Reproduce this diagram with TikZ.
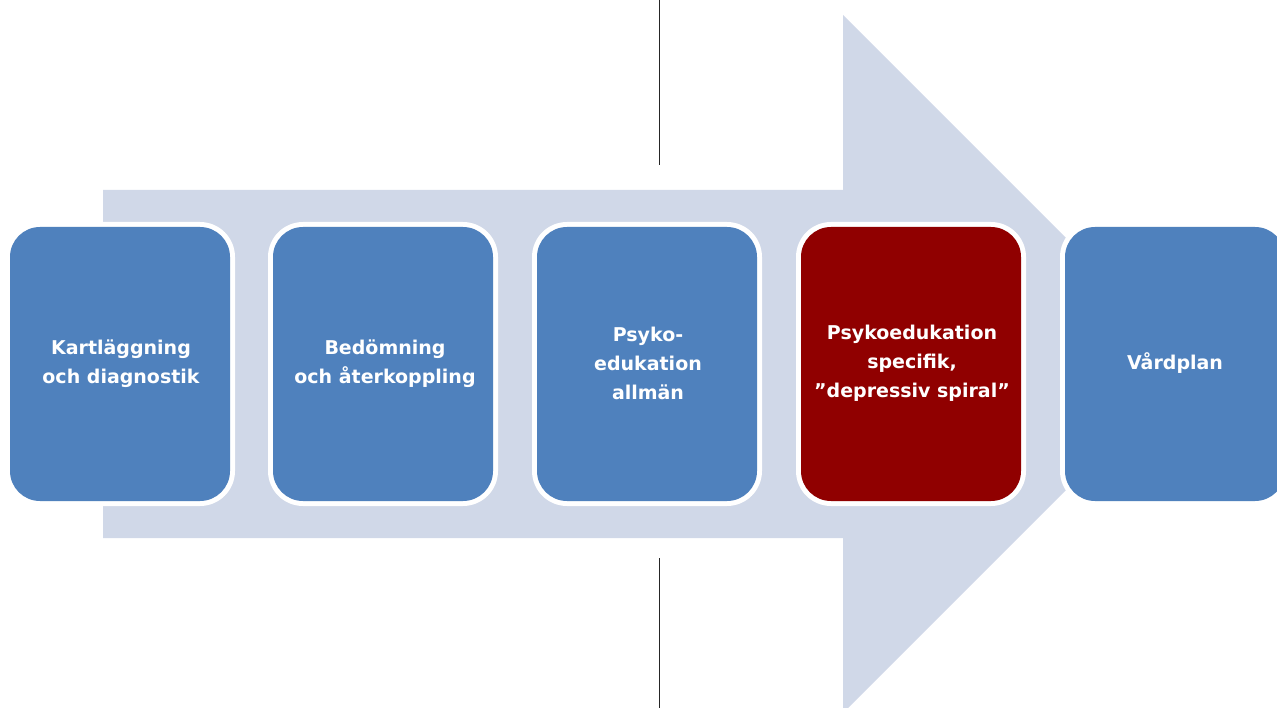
\documentclass[tikz,border=0pt]{standalone}
\usepackage{fontspec}
\setsansfont{DejaVu Sans}
\definecolor{stepblue}{HTML}{4F81BD}
\definecolor{stepred}{HTML}{900000}
\definecolor{arrowfill}{HTML}{D0D8E8}
\begin{document}
\begin{tikzpicture}[x=1pt,y=-1pt,
  stepbox/.style={rounded corners=30pt, fill=#1},
  ring/.style={rounded corners=35pt, fill=white},
  steplabel/.style={text=white, font=\sffamily\bfseries\fontsize{19}{29}\selectfont,
    align=center, inner sep=0pt}]
  \useasboundingbox (0,0) rectangle (1277,708);
  % dividing line
  \draw[line width=1pt, black!85] (659,0) coordinate (ltop) -- (659,165) coordinate (lmid);
  \draw[line width=1pt, black!85] (659,558) coordinate (lmid2) -- (659,708) coordinate (lbot);
  % large background arrow
  \fill[arrowfill] (103,190) -- (843,190) -- (843,15) -- (1192,364)
    -- (843,713) -- (843,538) -- (103,538) -- cycle;
  % process steps
  \foreach \i/\x/\c in {1/10/stepblue,2/273/stepblue,3/537/stepblue,4/801/stepred,5/1065/stepblue}{
    \fill[ring] (\x-5,222) rectangle (\x+225,506);
    \fill[stepbox=\c] (\x,227) rectangle (\x+220,501);
  }
  \node[steplabel] (s1) at (121,364) {Kartläggning\\och diagnostik};
  \node[steplabel] (s2) at (385,364) {Bedömning\\och återkoppling};
  \node[steplabel] (s3) at (648,363) {Psyko-\\edukation\\allmän};
  \node[steplabel] (s4) at (912,363) {Psykoedukation\\specifik,\\”depressiv spiral”};
  \node[steplabel] (s5) at (1175,363) {Vårdplan};
\end{tikzpicture}
\end{document}
